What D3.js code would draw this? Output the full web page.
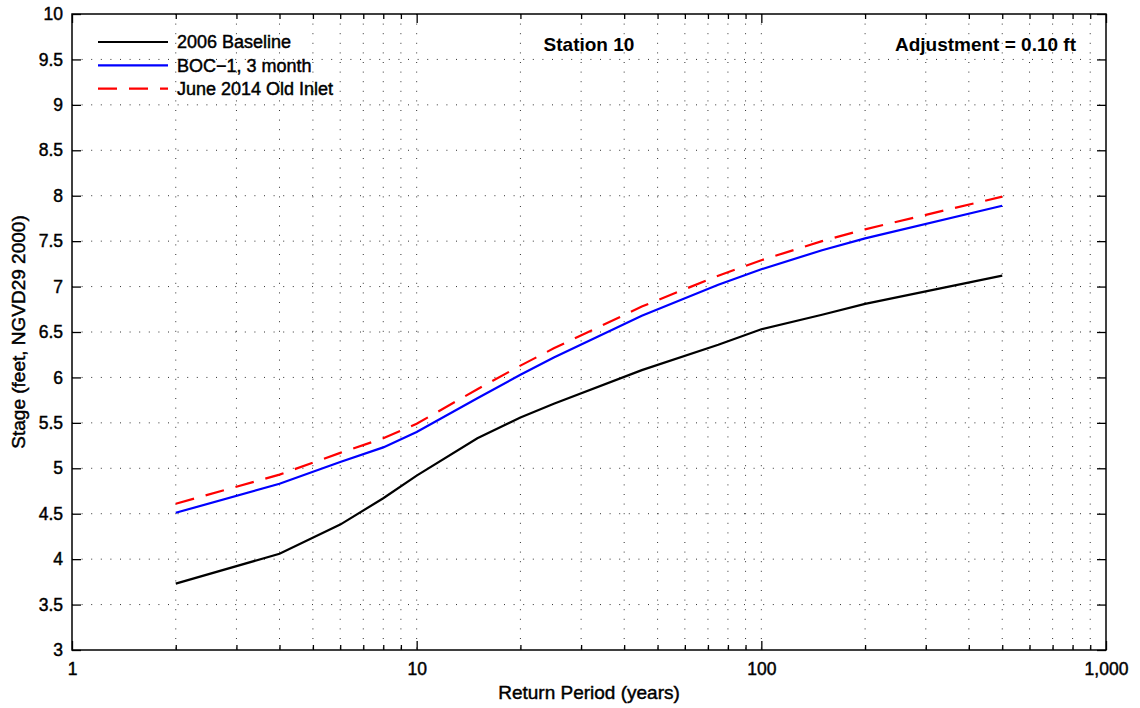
<!DOCTYPE html>
<html>
<head>
  <meta charset="UTF-8" />
  <title>Station 10</title>
  <script src="https://d3js.org/d3.v7.min.js"></script>
  <style>
    body { margin: 0; background: #fff; }
    text { font-family: "Liberation Sans", Arial, sans-serif; fill: #000; }
    .heavy { stroke: #000; stroke-width: 0.45px; }
  </style>
</head>
<body>
  <div id="chart"></div>

  <script>
    // values
    const returnPeriod = [2, 4, 6, 8, 10, 15, 20, 25, 45, 75, 100, 150, 200, 500];
    const baseline2006 = [3.73, 4.06, 4.38, 4.67, 4.92, 5.33, 5.56, 5.71, 6.08, 6.36, 6.53, 6.69, 6.81, 7.12];
    const boc1 = [4.51, 4.83, 5.07, 5.23, 5.40, 5.77, 6.03, 6.22, 6.68, 7.02, 7.19, 7.40, 7.53, 7.89];
    const june2014 = [4.61, 4.93, 5.17, 5.33, 5.49, 5.87, 6.13, 6.32, 6.78, 7.12, 7.29, 7.50, 7.63, 7.99];
    const seriesNames = ["2006 Baseline", "BOC\u22121, 3 month", "June 2014 Old Inlet"];
    const yTicks = [3, 3.5, 4, 4.5, 5, 5.5, 6, 6.5, 7, 7.5, 8, 8.5, 9, 9.5, 10];
    const xTicks = [1, 10, 100, 1000];
    const xMinor = [2, 3, 4, 5, 6, 7, 8, 9, 20, 30, 40, 50, 60, 70, 80, 90, 200, 300, 400, 500, 600, 700, 800, 900];

    const W = 1140, H = 708;
    const margin = { top: 14, right: 34, bottom: 58, left: 72 };
    const w = W - margin.left - margin.right;
    const h = H - margin.top - margin.bottom;

    const svg = d3.select("#chart")
      .append("svg")
      .attr("width", W)
      .attr("height", H);

    const g = svg.append("g")
      .attr("transform", "translate(" + margin.left + "," + margin.top + ")");

    const x = d3.scaleLog().domain([1, 1000]).range([0, w]);
    const y = d3.scaleLinear().domain([3, 10]).range([h, 0]);

    // dotted grid
    const grid = g.append("g").attr("class", "grid")
      .attr("stroke", "#333")
      .attr("stroke-width", 1)
      .attr("stroke-dasharray", "1,8.6");
    grid.selectAll(".gx")
      .data(xMinor.concat([10, 100]))
      .enter().append("line")
      .attr("x1", d => x(d)).attr("x2", d => x(d))
      .attr("y1", 0).attr("y2", h);
    grid.selectAll(".gy")
      .data(yTicks.slice(1, -1))
      .enter().append("line")
      .attr("x1", 0).attr("x2", w)
      .attr("y1", d => y(d)).attr("y2", d => y(d));

    // axes, ticks point inward like matlab
    const yAxis = d3.axisLeft(y).tickValues(yTicks).tickSize(-9).tickSizeOuter(0).tickPadding(9)
      .tickFormat(d => String(d));
    const yAxisR = d3.axisRight(y).tickValues(yTicks).tickSize(-9).tickSizeOuter(0).tickFormat("");
    const xAxis = d3.axisBottom(x).tickValues(xTicks).tickSize(-9).tickSizeOuter(0).tickPadding(13)
      .tickFormat(d3.format(","));
    const xAxisT = d3.axisTop(x).tickValues(xTicks).tickSize(-9).tickSizeOuter(0).tickFormat("");
    const xMinorB = d3.axisBottom(x).tickValues(xMinor).tickSize(-5).tickSizeOuter(0).tickFormat("");
    const xMinorT = d3.axisTop(x).tickValues(xMinor).tickSize(-5).tickSizeOuter(0).tickFormat("");

    function styleAxis(sel) {
      sel.select(".domain").remove();
      sel.selectAll("line").attr("stroke", "#000").attr("stroke-width", 1.3);
      sel.selectAll("text")
        .attr("class", "heavy")
        .attr("font-size", 17.5)
        .attr("font-family", "Liberation Sans, Arial, sans-serif");
    }

    g.append("g").call(yAxis).call(styleAxis);
    g.append("g").attr("transform", "translate(" + w + ",0)").call(yAxisR).call(styleAxis);
    g.append("g").attr("transform", "translate(0," + h + ")").call(xAxis).call(styleAxis);
    g.append("g").attr("transform", "translate(0," + h + ")").call(xMinorB).call(styleAxis);
    g.append("g").call(xAxisT).call(styleAxis);
    g.append("g").call(xMinorT).call(styleAxis);

    // box
    g.append("rect")
      .attr("width", w).attr("height", h)
      .attr("fill", "none").attr("stroke", "#000").attr("stroke-width", 1.5);

    // lines
    const series = [
      { name: seriesNames[0], values: baseline2006, color: "#000", dash: null },
      { name: seriesNames[1], values: boc1, color: "#0000ff", dash: null },
      { name: seriesNames[2], values: june2014, color: "#ff0000", dash: "19,12" }
    ];

    const line = d3.line()
      .x(d => x(d[0]))
      .y(d => y(d[1]));

    g.selectAll(".series")
      .data(series)
      .enter().append("path")
      .attr("class", "series")
      .attr("fill", "none")
      .attr("stroke", d => d.color)
      .attr("stroke-width", 2.2)
      .attr("stroke-dasharray", d => d.dash)
      .attr("d", d => line(returnPeriod.map((r, i) => [r, d.values[i]])));

    // legend (no box)
    const legend = g.selectAll(".legend")
      .data(series)
      .enter().append("g")
      .attr("class", "legend")
      .attr("transform", (d, i) => "translate(26," + (28 + i * 23.3) + ")");
    legend.append("line")
      .attr("x1", 0).attr("x2", 70)
      .attr("stroke", d => d.color)
      .attr("stroke-width", 2.2)
      .attr("stroke-dasharray", d => d.dash);
    legend.append("text")
      .attr("class", "heavy")
      .attr("x", 79).attr("dy", "0.35em")
      .attr("font-size", 18)
      .text(d => d.name);

    // annotations
    g.append("text")
      .attr("x", w / 2).attr("y", 37)
      .attr("text-anchor", "middle")
      .attr("font-size", 19).attr("font-weight", "bold")
      .text("Station 10");
    g.append("text")
      .attr("x", 1004).attr("y", 37)
      .attr("text-anchor", "end")
      .attr("font-size", 19).attr("font-weight", "bold")
      .text("Adjustment = 0.10 ft");

    // axis labels
    svg.append("text")
      .attr("class", "heavy")
      .attr("x", margin.left + w / 2).attr("y", 699)
      .attr("text-anchor", "middle")
      .attr("font-size", 19)
      .text("Return Period (years)");
    svg.append("text")
      .attr("class", "heavy")
      .attr("transform", "translate(25," + (margin.top + h / 2) + ") rotate(-90)")
      .attr("text-anchor", "middle")
      .attr("font-size", 19)
      .text("Stage (feet, NGVD29 2000)");
  </script>
</body>
</html>
